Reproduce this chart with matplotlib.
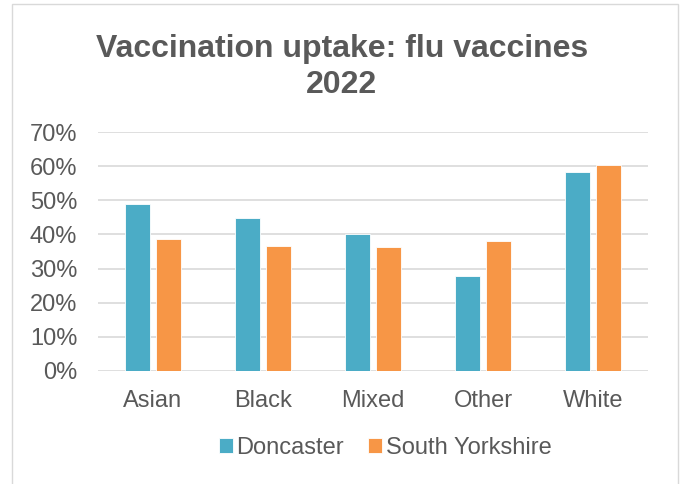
import matplotlib
matplotlib.use("Agg")
import matplotlib.pyplot as plt
import numpy as np
from matplotlib.patches import Rectangle

plt.rcParams['font.family'] = ['Liberation Sans', 'DejaVu Sans']

categories = ['Asian', 'Black', 'Mixed', 'Other', 'White']
doncaster = [0.488, 0.447, 0.401, 0.278, 0.583]
south_yorkshire = [0.388, 0.366, 0.364, 0.382, 0.605]
yticks = [0, 0.1, 0.2, 0.3, 0.4, 0.5, 0.6, 0.7]

grey = '#595959'
fig = plt.figure(figsize=(6.81, 4.84), dpi=100)
# light chart border
fig.patches.append(Rectangle((0.018, -0.01), 0.977, 1.002, transform=fig.transFigure,
                             fill=False, edgecolor='#D9D9D9', linewidth=1))
ax = fig.add_axes([0.1439, 0.2335, 0.8076, 0.4935])

x = np.arange(len(categories))
w = 0.227
ax.bar(x - 0.143, doncaster, w, color='#4BACC6', edgecolor='white', linewidth=0.6,
       label='Doncaster', zorder=3)
ax.bar(x + 0.143, south_yorkshire, w, color='#F79646', edgecolor='white', linewidth=0.6,
       label='South Yorkshire', zorder=3)

ax.set_xlim(-0.5, len(categories) - 0.5)
ax.set_ylim(0, 0.7)
ax.set_yticks(yticks)
ax.set_yticklabels([f'{int(round(t * 100))}%' for t in yticks])
ax.set_xticks(x)
ax.set_xticklabels(categories)
ax.tick_params(axis='both', length=0, labelsize=17, labelcolor=grey)
ax.tick_params(axis='y', pad=15)
ax.tick_params(axis='x', pad=14)
ax.grid(axis='y', color='#D9D9D9', linewidth=1.2, zorder=0)
for s in ax.spines.values():
    s.set_visible(False)

fig.suptitle('Vaccination uptake: flu vaccines\n2022', x=0.502, y=0.93, fontsize=23,
             fontweight='bold', color=grey, linespacing=1.25)
ax.legend(loc='center', bbox_to_anchor=(0.522, -0.322), ncol=2, frameon=False,
          fontsize=17, labelcolor=grey, handlelength=0.6, handleheight=0.6,
          handletextpad=0.15, columnspacing=1.0)

fig.savefig('out.png', dpi=100)
